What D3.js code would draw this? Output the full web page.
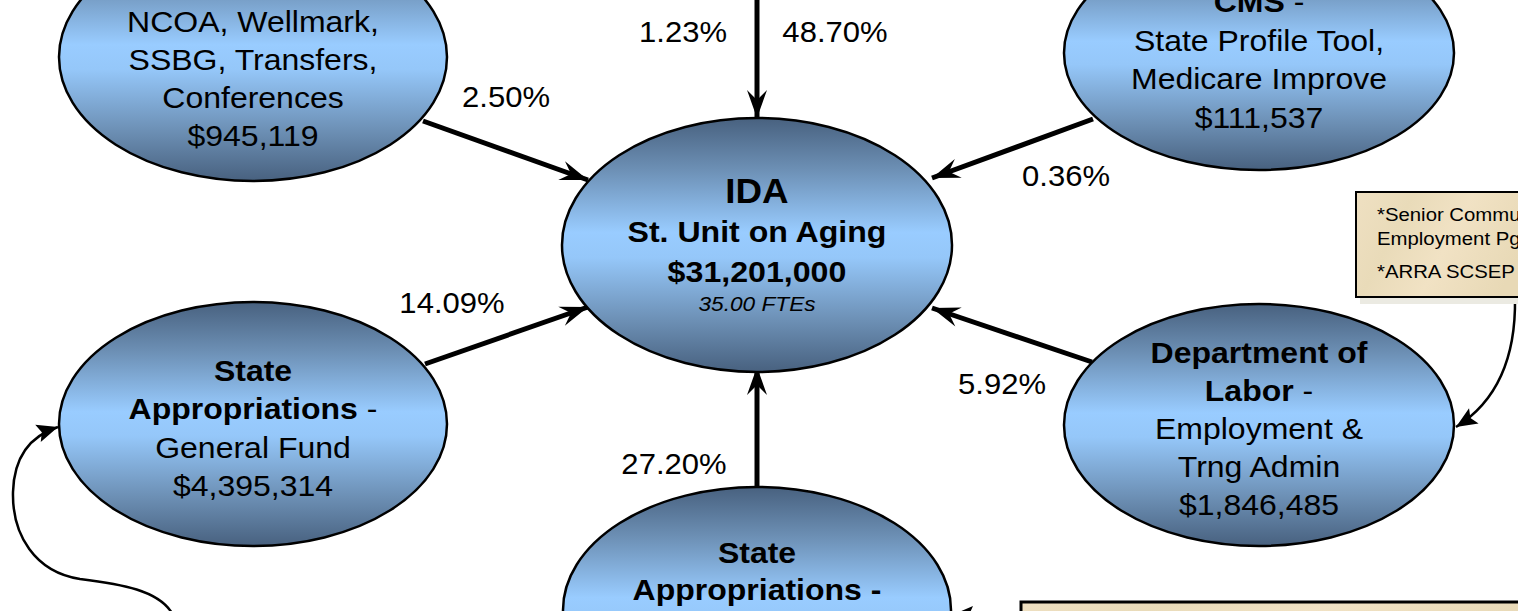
<!DOCTYPE html>
<html>
<head>
<meta charset="utf-8">
<script src="https://cdn.jsdelivr.net/npm/d3@7"></script>
<style>
  html, body { margin: 0; padding: 0; background: #ffffff; overflow: hidden; }
  svg { display: block; font-family: "Liberation Sans", Arial, sans-serif; }
</style>
</head>
<body>
<div id="chart"></div>
<script>
// ---------- data ----------
const centerLines = ["IDA", "St. Unit on Aging", "$31,201,000", "35.00 FTEs"];
const sourceNames = [
  "NCOA, Wellmark, SSBG, Transfers, Conferences",
  "CMS - State Profile Tool, Medicare Improve",
  "State Appropriations - General Fund",
  "Department of Labor - Employment & Trng Admin",
  "State Appropriations -"
];
const sourceAmounts = ["$945,119", "$111,537", "$4,395,314", "$1,846,485", ""];
const sourceShares = ["2.50%", "0.36%", "14.09%", "5.92%", "27.20%"];
const topShares = ["1.23%", "48.70%"];
const noteLines = ["*Senior Community Service", "Employment Pgm", "*ARRA SCSEP"];

// text lines for each source node: [text, bold]
const sourceLines = [
  [[["NCOA, Wellmark,", false]], [["SSBG, Transfers,", false]], [["Conferences", false]], [[sourceAmounts[0], false]]],
  [[["CMS", true], [" -", false]], [["State Profile Tool,", false]], [["Medicare Improve", false]], [[sourceAmounts[1], false]]],
  [[["State", true]], [["Appropriations", true], [" -", false]], [["General Fund", false]], [[sourceAmounts[2], false]]],
  [[["Department of", true]], [["Labor", true], [" -", false]], [["Employment &", false]], [["Trng Admin", false]], [[sourceAmounts[3], false]]],
  [[["State", true]], [["Appropriations -", true]]]
];

// ---------- layout ----------
const W = 1518, H = 611;
const center = {cx: 757, cy: 245, rx: 195, ry: 127};
const nodeLayout = [
  {cx: 253, cy: 57, rx: 194, ry: 124, firstBase: 32, step: 38},
  {cx: 1259, cy: 53, rx: 195, ry: 117, firstBase: 12, step: 38.5},
  {cx: 253, cy: 424, rx: 194, ry: 122, firstBase: 381, step: 38.3},
  {cx: 1259, cy: 425, rx: 195, ry: 121, firstBase: 363, step: 38},
  {cx: 757, cy: 610, rx: 194, ry: 123, firstBase: 563, step: 37}
];
const arrowLayout = [
  {x1: 423, y1: 121, x2: 588, y2: 180},
  {x1: 1093, y1: 119, x2: 932, y2: 178},
  {x1: 425, y1: 364, x2: 588, y2: 307},
  {x1: 1092, y1: 362, x2: 932, y2: 308},
  {x1: 757, y1: 487, x2: 757, y2: 367}
];
const shareLabelPos = [[506, 107], [1066, 186], [452, 313], [1002, 394], [674, 474]];
const topLabelPos = [[683, 42], [835, 42]];

const svg = d3.select("#chart").append("svg")
  .attr("width", W).attr("height", H).attr("viewBox", `0 0 ${W} ${H}`);

const defs = svg.append("defs");
const grad = defs.append("linearGradient").attr("id", "ellGrad")
  .attr("x1", 0).attr("y1", 0).attr("x2", 0).attr("y2", 1);
[[0, "#48617f"], [0.2, "#6c8fb4"], [0.45, "#99ccff"], [0.55, "#95c7f9"], [0.8, "#6c8fb4"], [1, "#48617f"]]
  .forEach(([o, c]) => grad.append("stop").attr("offset", o).attr("stop-color", c));

const parch = defs.append("linearGradient").attr("id", "parch")
  .attr("x1", 0).attr("y1", 0).attr("x2", 1).attr("y2", 0.3);
[[0, "#efe0c2"], [0.3, "#e9dbb9"], [0.6, "#f1e2c4"], [1, "#e8d9b6"]]
  .forEach(([o, c]) => parch.append("stop").attr("offset", o).attr("stop-color", c));

defs.append("marker").attr("id", "bigHead")
  .attr("markerUnits", "userSpaceOnUse")
  .attr("viewBox", "-30 -14 32 28").attr("refX", 0).attr("refY", 0)
  .attr("markerWidth", 32).attr("markerHeight", 28).attr("orient", "auto")
  .append("path").attr("d", "M0,0 L-28,-10 L-18,0 L-28,10 Z").attr("fill", "#000");

defs.append("marker").attr("id", "smallHead")
  .attr("markerUnits", "userSpaceOnUse")
  .attr("viewBox", "-24 -12 26 24").attr("refX", 0).attr("refY", 0)
  .attr("markerWidth", 26).attr("markerHeight", 24).attr("orient", "auto")
  .append("path").attr("d", "M0,0 L-21,-9 L-17,0 L-21,9 Z").attr("fill", "#000");

// helper: horizontally stretched text
function stretchText(parent, x, y, sx, attrs) {
  const t = parent.append("text")
    .attr("transform", `translate(${x},${y}) scale(${sx},1)`)
    .attr("x", 0).attr("y", 0);
  Object.entries(attrs).forEach(([k, v]) => t.attr(k, v));
  return t;
}

// ---------- thin curved connectors ----------
const curves = [
  "M1515,298 C1516,360 1496,402 1456,427",
  "M173,615 C160,590 120,584 80,579 C35,572 12,535 13,492 C14,456 30,436 58,427",
  "M1022,615 L952,615"
];
svg.selectAll("path.curve").data(curves).join("path")
  .attr("class", "curve").attr("d", d => d)
  .attr("fill", "none").attr("stroke", "#000").attr("stroke-width", 2.5)
  .attr("marker-end", "url(#smallHead)");

// ---------- thick arrows ----------
svg.append("line").attr("x1", 757).attr("y1", -5).attr("x2", 757).attr("y2", 118)
  .attr("stroke", "#000").attr("stroke-width", 5).attr("marker-end", "url(#bigHead)");
svg.selectAll("line.flow").data(arrowLayout).join("line")
  .attr("class", "flow")
  .attr("x1", d => d.x1).attr("y1", d => d.y1)
  .attr("x2", d => d.x2).attr("y2", d => d.y2)
  .attr("stroke", "#000").attr("stroke-width", 5)
  .attr("marker-end", "url(#bigHead)");

// ---------- ellipses ----------
const allEll = nodeLayout.concat([center]);
svg.selectAll("ellipse.node").data(allEll).join("ellipse")
  .attr("class", "node")
  .attr("cx", d => d.cx).attr("cy", d => d.cy)
  .attr("rx", d => d.rx).attr("ry", d => d.ry)
  .attr("fill", "url(#ellGrad)").attr("stroke", "#000").attr("stroke-width", 2.5);

// ---------- node text ----------
nodeLayout.forEach((L, i) => {
  const g = svg.append("g");
  sourceLines[i].forEach((line, j) => {
    const t = stretchText(g, L.cx, L.firstBase + j * L.step, 1.085,
      {"text-anchor": "middle", "font-size": 29.5, "fill": "#000"});
    line.forEach(([s, b]) => t.append("tspan").attr("font-weight", b ? "bold" : "normal").text(s));
  });
});

// center text
const cStyles = [
  {y: 203, size: 35, weight: "bold", style: "normal", sx: 1.05},
  {y: 242, size: 30, weight: "bold", style: "normal", sx: 1.07},
  {y: 282, size: 29.5, weight: "bold", style: "normal", sx: 1.09},
  {y: 311, size: 21, weight: "normal", style: "italic", sx: 1.08}
];
centerLines.forEach((s, i) => {
  const c = cStyles[i];
  stretchText(svg, center.cx, c.y, c.sx,
    {"text-anchor": "middle", "font-size": c.size, "font-weight": c.weight, "font-style": c.style})
    .text(s);
});

// percentage labels
sourceShares.forEach((s, i) => {
  stretchText(svg, shareLabelPos[i][0], shareLabelPos[i][1], 1.035,
    {"text-anchor": "middle", "font-size": 30}).text(s);
});
topShares.forEach((s, i) => {
  stretchText(svg, topLabelPos[i][0], topLabelPos[i][1], 1.035,
    {"text-anchor": "middle", "font-size": 30}).text(s);
});

// ---------- note boxes ----------
svg.append("rect").attr("x", 1360).attr("y", 296).attr("width", 170).attr("height", 8)
  .attr("fill", "#ebeae2");
svg.append("rect").attr("x", 1356).attr("y", 192).attr("width", 180).attr("height", 105)
  .attr("fill", "url(#parch)").attr("stroke", "#000").attr("stroke-width", 2);
noteLines.forEach((s, i) => {
  stretchText(svg, 1377, [221, 245, 278][i], 1.1, {"font-size": 18.5}).text(s);
});

svg.append("rect").attr("x", 1021).attr("y", 602).attr("width", 510).attr("height", 30)
  .attr("fill", "url(#parch)").attr("stroke", "#000").attr("stroke-width", 3);
</script>
</body>
</html>
